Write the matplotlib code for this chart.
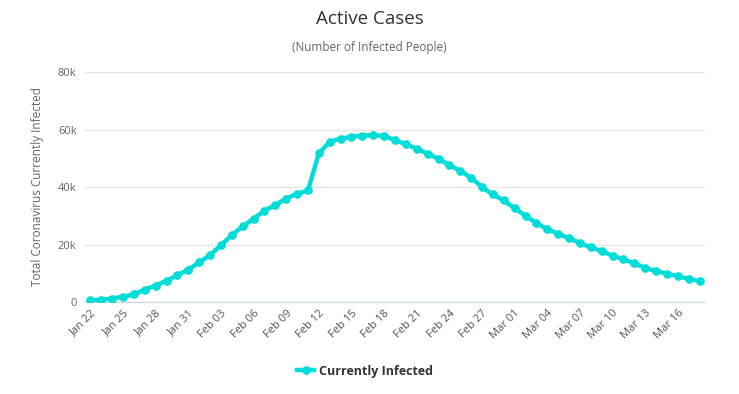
import matplotlib
matplotlib.use("Agg")
import matplotlib.pyplot as plt
import numpy as np

plt.rcParams['font.family'] = ['Open Sans', 'DejaVu Sans']

dates = (["Jan %02d" % d for d in range(22, 32)] +
         ["Feb %02d" % d for d in range(1, 30)] +
         ["Mar %02d" % d for d in range(1, 19)])
active = [554, 771, 1208, 1870, 2613, 4349, 5739, 7417, 9308, 11289,
          13748, 16369, 19716, 23322, 26302, 28985, 31774, 33738, 35982, 37626,
          38800, 51740, 55748, 56873, 57416, 57934, 58016, 57805, 56303, 54965,
          53284, 51606, 49824, 47672, 45604, 43258, 39919, 37414, 35329,
          32652, 30004, 27433, 25352, 23784, 22177, 20533, 19016, 17721, 16145,
          14831, 13526, 11869, 10734, 9893, 8967, 8043, 7263]
yticks = [0, 20000, 40000, 60000, 80000]
ytick_labels = ["0", "20k", "40k", "60k", "80k"]

color = "#00dcd8"
fig = plt.figure(figsize=(7.39, 3.94), dpi=100)
ax = fig.add_axes([0.115, 0.2335, 0.839, 0.5835])
x = np.arange(len(dates))
ax.plot(x, active, color=color, lw=3.2, marker="o", ms=5.2, label="Currently Infected",
        solid_joinstyle="round", zorder=3)
ax.set_xlim(-0.5, len(dates) - 0.5)
ax.set_ylim(0, 80000)
ax.set_yticks(yticks)
ax.set_yticklabels(ytick_labels, color="#666666", fontsize=8)
ax.set_xticks(x[::3])
ax.set_xticklabels(dates[::3], rotation=45, ha="right", rotation_mode="anchor",
                   color="#555555", fontsize=8)
ax.tick_params(axis="both", length=0, pad=6)
ax.tick_params(axis="x", pad=4)
ax.grid(axis="y", color="#e6e6e6", lw=1)
ax.set_axisbelow(True)
for s in ["top", "right", "left"]:
    ax.spines[s].set_visible(False)
ax.spines["bottom"].set_color("#ccd6eb")
ax.set_ylabel("Total Coronavirus Currently Infected", color="#666666", fontsize=8.5, labelpad=10)

fig.text(0.5, 1 - 19 / 394, "Active Cases", ha="center", va="center", fontsize=13.5, color="#333333")
fig.text(0.5, 1 - 48 / 394, "(Number of Infected People)", ha="center", va="center", fontsize=8.5, color="#666666")

leg = fig.legend(loc="center", bbox_to_anchor=(365 / 739, 1 - 371 / 394), frameon=False,
                 prop={"weight": "bold", "size": 9}, handlelength=1.3, handletextpad=0.4)
for t in leg.get_texts():
    t.set_color("#333333")

fig.savefig("out.png", dpi=100)
